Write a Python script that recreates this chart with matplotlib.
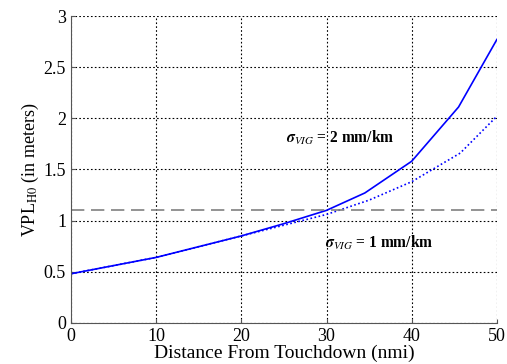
import matplotlib
matplotlib.use("Agg")
import matplotlib.pyplot as plt

dist_solid = [0, 10, 20, 25, 30, 34.5, 40, 45.5, 50]
vpl_solid = [0.48, 0.64, 0.85, 0.97, 1.10, 1.27, 1.58, 2.11, 2.77]
dist_dot = [0, 10, 20, 30, 35, 40, 45.7, 50]
vpl_dot = [0.48, 0.64, 0.85, 1.06, 1.20, 1.38, 1.66, 2.02]
threshold = 1.1

plt.rcParams['font.family'] = ['Liberation Serif', 'DejaVu Serif']
plt.rcParams['mathtext.fontset'] = 'stix'
fig = plt.figure(figsize=(5.07, 3.64), dpi=100)
ax = fig.add_axes([0.140, 0.113, 0.840, 0.843])
ax.plot(dist_solid, vpl_solid, color='#0000ff', lw=1.2)
ax.plot(dist_dot, vpl_dot, color='#0000ff', lw=1.2, ls=(0, (1, 1.5)))
ax.axhline(threshold, color='#808080', lw=1.2, ls=(0, (8, 4)))
ax.set_xlim(0, 50)
ax.set_ylim(0, 3)
ax.set_xticks([0, 10, 20, 30, 40, 50])
ax.set_yticks([0, 0.5, 1, 1.5, 2, 2.5, 3])
ax.set_yticklabels(['0', '0.5', '1', '1.5', '2', '2.5', '3'])
ax.grid(True, color='black', ls=(0, (1.5, 2)), lw=0.8)
for s in ['top', 'right']:
    ax.spines[s].set_visible(False)
for s in ['left', 'bottom']:
    ax.spines[s].set_color('#555555')
ax.tick_params(direction='in', labelsize=13, length=3, color='#555555')
ax.set_xlabel('Distance From Touchdown (nmi)', fontsize=14, labelpad=0)
ax.set_ylabel(r'VPL$_{\mathrm{H0}}$ (in meters)', fontsize=13, labelpad=2)
ax.text(25.2, 1.81, r'$\boldsymbol{\sigma}_{VIG}$ = 2 mm/km', fontsize=11.2, fontweight='bold', va='center')
ax.text(29.8, 0.78, r'$\boldsymbol{\sigma}_{VIG}$ = 1 mm/km', fontsize=11.2, fontweight='bold', va='center')
fig.savefig('out.png', dpi=100)
